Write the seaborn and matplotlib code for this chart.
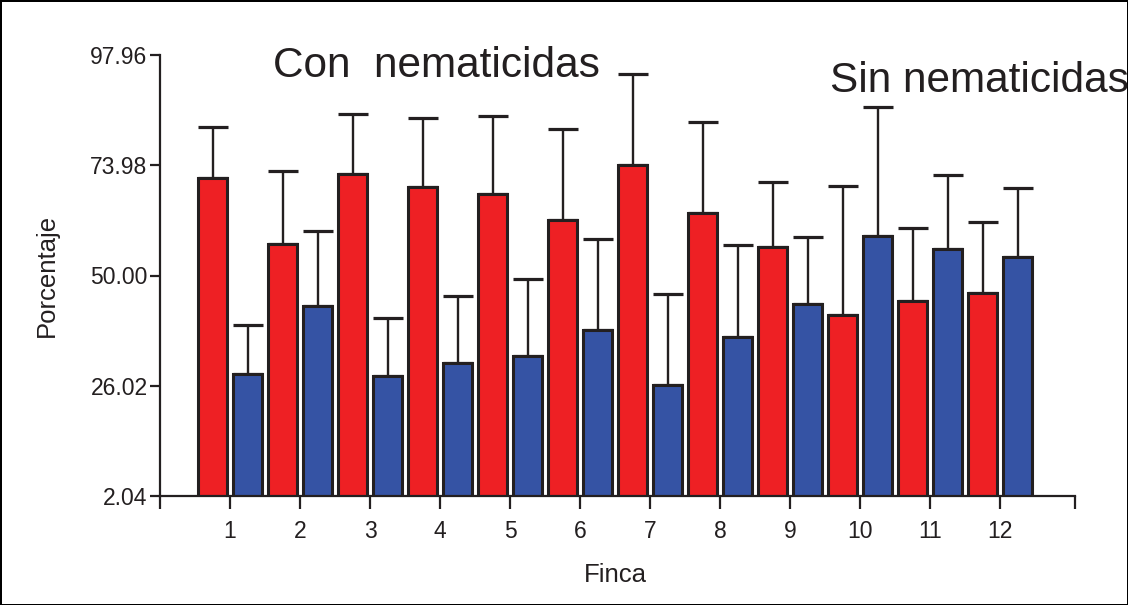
import numpy as np
import pandas as pd
import matplotlib
matplotlib.use("Agg")
import matplotlib.pyplot as plt
import seaborn as sns

# ---- data ----
fincas = ["1", "2", "3", "4", "5", "6", "7", "8", "9", "10", "11", "12"]
con_media = [71.2, 56.8, 72.1, 69.2, 67.7, 62.1, 74.0, 63.6, 56.2, 41.4, 44.4, 46.2]
con_error = [11.1, 15.9, 13.0, 15.1, 17.0, 19.8, 19.8, 19.8, 14.1, 28.1, 15.9, 15.4]
sin_media = [28.6, 43.4, 28.1, 31.0, 32.5, 38.1, 26.2, 36.6, 43.8, 58.6, 55.8, 54.0]
sin_error = [10.6, 16.3, 12.7, 14.5, 16.8, 19.8, 19.8, 20.0, 14.6, 28.0, 16.1, 15.0]
y_ticks = [2.04, 26.02, 50.00, 73.98, 97.96]

dark = "#231F20"
red = "#EE2024"
blue = "#3553A4"

sns.set_theme(style="ticks")
plt.rcParams["font.family"] = ["Liberation Sans", "DejaVu Sans"]

df = pd.DataFrame({
    "Finca": fincas * 2,
    "Porcentaje": con_media + sin_media,
    "grupo": ["Con"] * len(fincas) + ["Sin"] * len(fincas),
})
err_inter = []
for c, s in zip(con_error, sin_error):
    err_inter += [c, s]

fig = plt.figure(figsize=(11.28, 6.05), dpi=100)
fig.patch.set_facecolor("white")
fig.patch.set_edgecolor("black")
fig.patch.set_linewidth(2)
ax = fig.add_axes([160 / 1128, 1 - 496 / 605, 915 / 1128, 441 / 605])

sns.barplot(data=df, x="Finca", y="Porcentaje", hue="grupo", order=fincas,
            palette={"Con": red, "Sin": blue}, saturation=1, width=1.0, gap=0.17,
            errorbar=None, edgecolor=dark, linewidth=2.2, legend=False, ax=ax)

# error bars (upper only), aligned on the bars drawn by seaborn
bars = sorted(ax.patches, key=lambda p: p.get_x())
xs = [p.get_x() + p.get_width() / 2 for p in bars]
hs = [p.get_height() for p in bars]
ax.errorbar(xs, hs, yerr=[np.zeros(len(hs)), err_inter], fmt="none",
            ecolor=dark, elinewidth=1.7, capsize=10.8, capthick=2.3, zorder=0.5)

xmax = 12.07
ax.set_xlim(-1, xmax)
ax.set_ylim(y_ticks[0], y_ticks[-1])
ax.set_xticks([-1] + list(range(len(fincas))) + [xmax])
ax.set_xticklabels([""] + fincas + [""])
ax.set_yticks(y_ticks)
ax.set_yticklabels([f"{v:.2f}" for v in y_ticks])

for side in ["top", "right"]:
    ax.spines[side].set_visible(False)
for side in ["left", "bottom"]:
    ax.spines[side].set_color(dark)
    ax.spines[side].set_linewidth(1.6)

ax.tick_params(axis="both", which="both", direction="out", color=dark,
               width=1.6, labelsize=16.5, labelcolor=dark,
               bottom=True, left=True)
ax.tick_params(axis="y", length=7, pad=2)
ax.tick_params(axis="x", length=9, pad=8)
ax.set_xlabel("Finca", fontsize=18.5, color=dark)
ax.set_ylabel("Porcentaje", fontsize=18.5, color=dark)
ax.xaxis.set_label_coords(0.498, -0.152)
ax.yaxis.set_label_coords(-0.110, 0.5)
ax.set_facecolor("white")

fig.text(273 / 1128, 1 - 77 / 605, "Con  nematicidas", fontsize=30.5,
         color=dark, ha="left", va="baseline")
fig.text(830 / 1128, 1 - 92 / 605, "Sin nematicidas", fontsize=30.5,
         color=dark, ha="left", va="baseline")

fig.savefig("out.png", dpi=100, facecolor="white", edgecolor="black")
